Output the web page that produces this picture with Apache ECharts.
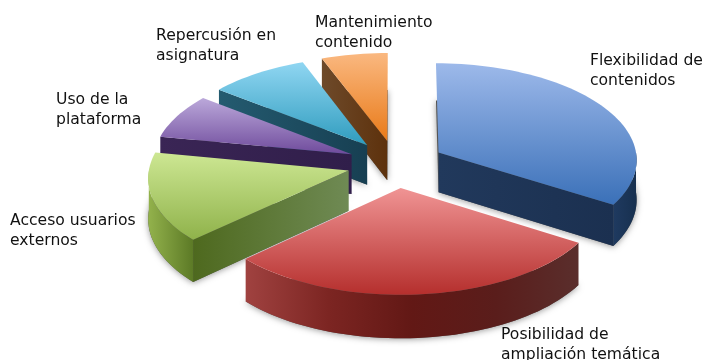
<!DOCTYPE html>
<html><head><meta charset="utf-8">
<style>html,body{margin:0;padding:0;background:#fff}#c{width:705px;height:360px}</style>
<script src="https://cdn.jsdelivr.net/npm/echarts@6/dist/echarts.min.js"></script>
</head><body><div id="c"></div>
<script>
var categories=['Flexibilidad de\ncontenidos','Posibilidad de\nampliación temática','Acceso usuarios\nexternos','Uso de la\nplataforma','Repercusión en\nasignatura','Mantenimiento\ncontenido'];
var shares=[33.9,29.2,14.9,7.5,8.7,5.8];
var labelAnchors=[[590,51],[501,325],[10,211],[56,90],[156,26],[315,13]];
var paintRank=[4,6,5,3,2,1];
var topColors=[['#9DB9EA','#3A70B8'],['#F09494','#B52F2D'],['#CDE793','#8FB24A'],['#BBA8DA','#6F4B9C'],['#90D6F2','#2F9CBE'],['#FAB880','#E97A18']];
var wallColors=[['#1F3A60','#17304F'],['#A04240','#7C2522','#621815','#5A1D1B','#5A2E2C'],['#93B24C','#5C7A26'],['#3A2555','#2E1C47'],['#1E5468','#1A4456'],['#6A4626','#5E320D']];
var faceColors=[['#21395C','#1B3050'],['#7A2A28','#5F1917'],['#4E691E','#6F8A54'],['#3A2555','#301E4A'],['#245B70','#173F52'],['#6E4A2A','#5D310C']];

var PIE={cx:396,cy:164,R:199,tilt:0.485,persp:0.065,depth:40,explode:49};
function rad(d){return d*Math.PI/180;}
function project(a,r,mid,h){
  var x=r*Math.sin(rad(a))+PIE.explode*Math.sin(rad(mid));
  var z=-r*Math.cos(rad(a))-PIE.explode*Math.cos(rad(mid));
  var f=1/(1-PIE.persp*z/PIE.R);
  return [PIE.cx+x*f,PIE.cy+PIE.tilt*z*f+h*PIE.depth*f];
}
function arc(a,b,mid,h){
  var n=Math.max(2,Math.ceil(Math.abs(b-a)/2)),p=[];
  for(var i=0;i<=n;i++)p.push(project(a+(b-a)*i/n,PIE.R,mid,h));
  return p;
}
function grad(cols,horizontal){
  var s=cols.map(function(c,i){return {offset:i/(cols.length-1),color:c};});
  return horizontal?new echarts.graphic.LinearGradient(0,0,1,0,s):new echarts.graphic.LinearGradient(0,0,0,1,s);
}
function renderSlice(params,api){
  var i=params.dataIndex,total=shares.reduce(function(s,v){return s+v;},0),before=0;
  for(var k=0;k<i;k++)before+=shares[k];
  var a=before/total*360,b=(before+api.value(0))/total*360,mid=(a+b)/2;
  var z=paintRank[i]*10,kids=[];
  function poly(points,fill,extra,order){
    var st={fill:fill};if(extra)for(var q in extra)st[q]=extra[q];
    kids.push({type:'polygon',shape:{points:points},style:st,z2:z+order,silent:true});
  }
  var apexT=project(0,0,mid,0),apexB=project(0,0,mid,1);
  var base=[apexB].concat(arc(a,b,mid,1));
  poly(base,'#555',{shadowColor:'rgba(0,0,0,0.4)',shadowBlur:6,shadowOffsetY:1},0);
  if(Math.sin(rad(a))<0){
    var pT=project(a,PIE.R,mid,0),pB=project(a,PIE.R,mid,1);
    poly([pT,apexT,apexB,pB],grad(faceColors[i],true),null,1);
  }
  if(Math.sin(rad(b))>0){
    var qT=project(b,PIE.R,mid,0),qB=project(b,PIE.R,mid,1);
    poly([apexT,qT,qB,apexB],grad(faceColors[i],true),null,1);
  }
  var w0=Math.max(a,90),w1=Math.min(b,270);
  if(w1>w0){
    poly(arc(w0,w1,mid,0).concat(arc(w0,w1,mid,1).reverse()),grad(wallColors[i],true),null,2);
  }
  poly([apexT].concat(arc(a,b,mid,0)),grad(topColors[i],false),null,3);
  return {type:'group',children:kids};
}
var chart=echarts.init(document.getElementById('c'),null,{renderer:'canvas'});
chart.setOption({
  animation:false,
  backgroundColor:'#fff',
  series:[{type:'custom',coordinateSystem:'none',renderItem:renderSlice,silent:true,
    data:shares.map(function(v,i){return {name:categories[i],value:[v]};})}],
  graphic:categories.map(function(t,i){
    return {type:'text',left:labelAnchors[i][0],top:labelAnchors[i][1],silent:true,
      style:{text:t,fill:'#111',font:'15.6px "DejaVu Sans"',lineHeight:20}};
  })
});
</script></body></html>
